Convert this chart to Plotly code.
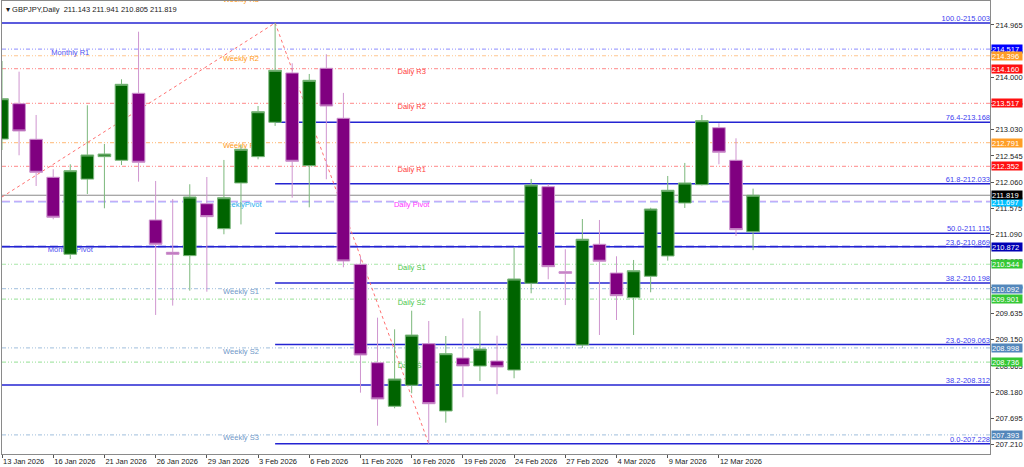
import plotly.graph_objects as go

# ---------------- data ----------------
dates = ["13 Jan 2026", "14 Jan 2026", "15 Jan 2026", "16 Jan 2026", "19 Jan 2026", "20 Jan 2026",
         "21 Jan 2026", "22 Jan 2026", "23 Jan 2026", "26 Jan 2026", "27 Jan 2026", "28 Jan 2026",
         "29 Jan 2026", "30 Jan 2026", "2 Feb 2026", "3 Feb 2026", "4 Feb 2026", "5 Feb 2026",
         "6 Feb 2026", "9 Feb 2026", "10 Feb 2026", "11 Feb 2026", "12 Feb 2026", "13 Feb 2026",
         "16 Feb 2026", "17 Feb 2026", "18 Feb 2026", "19 Feb 2026", "20 Feb 2026", "23 Feb 2026",
         "24 Feb 2026", "25 Feb 2026", "26 Feb 2026", "27 Feb 2026", "2 Mar 2026", "3 Mar 2026",
         "4 Mar 2026", "5 Mar 2026", "6 Mar 2026", "9 Mar 2026", "10 Mar 2026", "11 Mar 2026",
         "12 Mar 2026", "13 Mar 2026", "16 Mar 2026"]
opens = [212.858, 213.511, 212.853, 212.151, 210.728, 212.117, 212.532, 212.465, 213.703, 211.362,
         210.765, 210.703, 211.663, 211.201, 212.046, 212.532, 213.167, 214.078, 212.365, 214.165,
         213.241, 210.543, 208.725, 207.920, 208.308, 209.076, 207.833, 208.812, 208.664, 208.756,
         208.590, 210.192, 211.977, 210.407, 209.052, 210.913, 210.382, 209.926, 210.322, 210.697,
         211.676, 212.014, 213.067, 212.465, 211.143]
highs = [214.300, 214.102, 213.302, 212.299, 212.391, 213.481, 212.766, 213.962, 214.841, 212.083,
         211.750, 212.022, 212.156, 212.471, 212.748, 213.468, 215.003, 214.257, 214.060, 214.424,
         213.710, 210.684, 209.557, 209.342, 209.686, 209.496, 209.218, 209.545, 209.680, 209.224,
         210.850, 212.120, 212.027, 210.820, 211.380, 211.362, 210.691, 210.623, 211.588, 212.175,
         212.416, 213.302, 213.149, 212.871, 211.941]
lows = [212.655, 212.557, 211.990, 211.375, 210.641, 211.842, 211.578, 212.378, 212.070, 209.607,
        209.780, 210.056, 210.037, 211.098, 211.280, 212.483, 213.100, 211.774, 211.596, 212.114,
        210.488, 208.171, 207.561, 207.883, 208.160, 207.228, 207.617, 208.086, 208.387, 208.142,
        208.437, 210.007, 210.266, 209.790, 208.997, 209.237, 209.514, 209.237, 210.026, 210.610,
        211.584, 212.000, 212.391, 211.066, 210.805]
closes = [213.603, 213.006, 212.243, 211.412, 212.273, 212.563, 212.581, 213.869, 212.428, 210.913,
          210.728, 211.787, 211.423, 211.774, 212.669, 213.363, 214.128, 212.446, 213.943, 213.468,
          210.604, 208.867, 208.054, 208.424, 209.236, 207.967, 208.892, 208.665, 208.978, 208.646,
          210.272, 212.009, 210.499, 210.377, 211.006, 210.599, 209.963, 210.425, 211.565, 211.911,
          212.046, 213.197, 212.613, 211.183, 211.819]

y_tick_vals = [207.210, 207.695, 208.180, 208.665, 209.150, 209.635, 210.120, 210.605, 211.090,
               211.575, 212.060, 212.545, 213.030, 213.515, 214.000, 214.485, 214.965]
y_tick_text = ["207.210", "207.695", "208.180", "208.665", "209.150", "209.635", "210.120", "210.605",
               "211.090", "211.575", "212.060", "212.545", "213.030", "213.515", "214.000", "214.485",
               "214.965"]

# Fibonacci retracement levels (label, price, start date or None = whole width)
fib_labels = ["100.0-215.003", "76.4-213.168", "61.8-212.033", "50.0-211.115", "23.6-210.869",
              "38.2-210.198", "23.6-209.063", "38.2-208.312", "0.0-207.228"]
fib_levels = [215.003, 213.168, 212.033, 211.115, 210.869, 210.198, 209.063, 208.312, 207.228]
fib_start = [None, "4 Feb 2026", "4 Feb 2026", "4 Feb 2026", None, "4 Feb 2026", "4 Feb 2026", None,
             "4 Feb 2026"]
fib_swing_dates = ["13 Jan 2026", "4 Feb 2026", "17 Feb 2026"]
fib_swing_prices = [211.787, 215.003, 207.228]

# Pivot levels
pivot_names = ["Monthly R1", "Monthly Pivot",
               "Weekly R3", "Weekly R2", "Weekly R1", "WeeklyPivot", "Weekly S1", "Weekly S2", "Weekly S3",
               "Daily R3", "Daily R2", "Daily R1", "Daily Pivot", "Daily S1", "Daily S2", "Daily S3"]
pivot_levels = [214.517, 210.872,
                215.490, 214.396, 212.791, 211.697, 210.092, 208.998, 207.393,
                214.160, 213.517, 212.352, 211.709, 210.544, 209.901, 208.736]
pivot_label_dates = {"Monthly": "19 Jan 2026", "Weekly": "2 Feb 2026", "Daily": "16 Feb 2026"}

# ---------------- styles ----------------
DDD = "4px,2px,1px,2px,1px,2px"
styles = {
    "Monthly R1": ("#a3a3ff", DDD, 1.2, "#5050f0", "#0000ff"),
    "Monthly Pivot": ("#2b2bd6", "8px,4px", 1.5, "#5050f0", "#0000b4"),
    "Weekly R3": ("#ffc690", DDD, 1.2, "#ff9a20", None),
    "Weekly R2": ("#ffc690", DDD, 1.2, "#ff9a20", "#ff9d26"),
    "Weekly R1": ("#ffc690", DDD, 1.2, "#ff9a20", "#ff9d26"),
    "WeeklyPivot": ("#a2b8ff", "8px,4px", 1.5, "#1aaeee", "#00bfff"),
    "Weekly S1": ("#b3cbe4", DDD, 1.2, "#6f98c8", "#5387bb"),
    "Weekly S2": ("#b3cbe4", DDD, 1.2, "#6f98c8", "#5387bb"),
    "Weekly S3": ("#b3cbe4", DDD, 1.2, "#6f98c8", "#5387bb"),
    "Daily R3": ("#ffa0a0", DDD, 1.2, "#ff3c3c", "#ff1010"),
    "Daily R2": ("#ffa0a0", DDD, 1.2, "#ff3c3c", "#ff1010"),
    "Daily R1": ("#ffa0a0", DDD, 1.2, "#ff3c3c", "#ff1010"),
    "Daily Pivot": ("#cfa8f5", "8px,4px", 1.0, "#ff30ff", None),
    "Daily S1": ("#a9e6a9", DDD, 1.2, "#4cc84c", "#35c835"),
    "Daily S2": ("#a9e6a9", DDD, 1.2, "#4cc84c", "#35c835"),
    "Daily S3": ("#a9e6a9", DDD, 1.2, "#4cc84c", "#35c835"),
}
FONT = "Liberation Sans, Arial, sans-serif"

n = len(dates)
xs = list(range(n))
X_MAX = 57.88
X_RANGE = [0, X_MAX]
Y_RANGE = [207.038, 215.408]
idx = {d: i for i, d in enumerate(dates)}

fig = go.Figure()

# text labels of pivots (main axes, drawn beneath candles)
for group, d in pivot_label_dates.items():
    names = [nm for nm in pivot_names if nm.startswith(group)]
    levels = [pivot_levels[pivot_names.index(nm)] for nm in names]
    fig.add_trace(go.Scatter(
        x=[idx[d]] * len(names), y=levels, mode="text", text=names,
        textposition="bottom center", cliponaxis=True,
        textfont=dict(family=FONT, size=7.5, color=[styles[nm][3] for nm in names]),
        hoverinfo="skip", showlegend=False, xaxis="x", yaxis="y"))

# fib labels at right end
fig.add_trace(go.Scatter(
    x=[X_MAX] * len(fib_labels), y=fib_levels, mode="text", text=fib_labels,
    textposition="top left", cliponaxis=True,
    textfont=dict(family=FONT, size=7.5, color="#4040f0"),
    hoverinfo="skip", showlegend=False, xaxis="x", yaxis="y"))

# candles on an overlaid axis pair, so they sit above the label texts
fig.add_trace(go.Candlestick(
    x=xs, open=opens, high=highs, low=lows, close=closes,
    increasing=dict(fillcolor="#006400", line=dict(color="#7cb87c", width=1)),
    decreasing=dict(fillcolor="#800080", line=dict(color="#cf95cf", width=1)),
    whiskerwidth=0, xaxis="x2", yaxis="y2", showlegend=False, hoverinfo="skip"))

shapes = []
# pivot lines
for nm, lv in zip(pivot_names, pivot_levels):
    col, dash, w, _, _ = styles[nm]
    shapes.append(dict(type="line", xref="paper", x0=0, x1=1, yref="y", y0=lv, y1=lv,
                       line=dict(color=col, dash=dash, width=w), layer="below"))
# fib lines
for lv, st in zip(fib_levels, fib_start):
    x0 = 0 if st is None else idx[st]
    shapes.append(dict(type="line", xref="x", x0=x0, x1=X_MAX, yref="y", y0=lv, y1=lv,
                       line=dict(color="#2424d2", width=1.5), layer="below"))
# fib swing diagonals
for i in range(len(fib_swing_dates) - 1):
    shapes.append(dict(type="line", xref="x", x0=idx[fib_swing_dates[i]], x1=idx[fib_swing_dates[i + 1]],
                       yref="y", y0=fib_swing_prices[i], y1=fib_swing_prices[i + 1],
                       line=dict(color="#ff7070", dash="dot", width=1), layer="below"))
# current price line
shapes.append(dict(type="line", xref="paper", x0=0, x1=1, yref="y", y0=closes[-1], y1=closes[-1],
                   line=dict(color="#8a8a8a", width=1), layer="below"))

annotations = []
# price boxes on the right axis
box_items = [(lv, styles[nm][4]) for nm, lv in zip(pivot_names, pivot_levels) if styles[nm][4]]
box_items.append((closes[-1], "#000000"))
for lv, bg in box_items:
    annotations.append(dict(xref="paper", x=1, xanchor="left", xshift=1, yref="y", y=lv,
                            yanchor="middle", text=f"{lv:.3f}", showarrow=False, bgcolor=bg,
                            width=30, height=8, borderpad=0, align="left",
                            font=dict(family=FONT, size=7.5, color="#ffffff")))
# header
annotations.append(dict(xref="paper", x=0, xanchor="left", xshift=2, yref="paper", y=1, yanchor="top",
                        yshift=-2, showarrow=False,
                        text=f"▾ GBPJPY,Daily  {opens[-1]:.3f} {highs[-1]:.3f} {lows[-1]:.3f} {closes[-1]:.3f}",
                        font=dict(family=FONT, size=7.5, color="#202020")))

fig.update_layout(
    width=1024, height=467,
    margin=dict(l=2, r=34, t=1, b=13),
    paper_bgcolor="#ffffff", plot_bgcolor="#ffffff",
    showlegend=False, boxgap=0.26, boxgroupgap=0,
    shapes=shapes, annotations=annotations,
    xaxis=dict(range=X_RANGE, tickvals=xs[::3], ticktext=dates[::3], ticks="outside", ticklen=3,
               tickcolor="#555", ticklabelposition="outside right",
               tickfont=dict(family=FONT, size=7.5, color="#202020"),
               showgrid=False, zeroline=False, showline=True, linecolor="#8a8a8a", mirror=True,
               fixedrange=True),
    yaxis=dict(range=Y_RANGE, side="right", tickvals=y_tick_vals, ticktext=y_tick_text,
               ticks="outside", ticklen=3, tickcolor="#555",
               tickfont=dict(family=FONT, size=7.5, color="#202020"),
               showgrid=False, zeroline=False, showline=True, linecolor="#8a8a8a", mirror=True,
               fixedrange=True),
    xaxis2=dict(overlaying="x", range=X_RANGE, visible=False, rangeslider=dict(visible=False),
                fixedrange=True),
    yaxis2=dict(overlaying="y", range=Y_RANGE, visible=False, fixedrange=True),
)

fig.write_html("out.html", config={"displayModeBar": False},
               post_script="document.body.style.margin='0';document.body.style.overflow='hidden';")
